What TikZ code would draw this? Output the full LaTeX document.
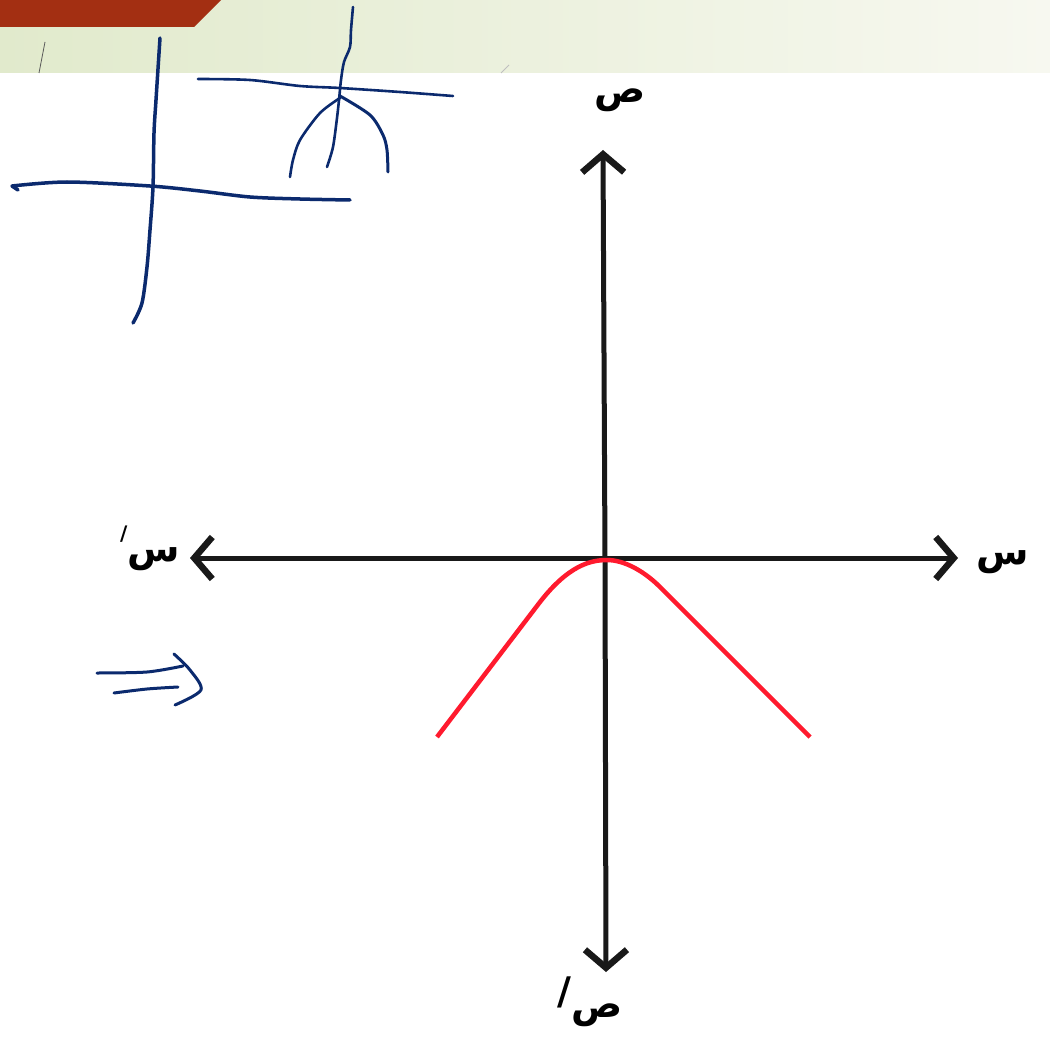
\documentclass[tikz,border=0pt]{standalone}
\usepackage{fontspec}
\newfontfamily\arabicfont[Script=Arabic]{DejaVu Sans}
\TeXXeTstate=1
\usetikzlibrary{arrows.meta}
\definecolor{pen}{HTML}{0B2A6E}
\definecolor{hdrL}{HTML}{E1EACC}
\definecolor{hdrR}{HTML}{F7F8F0}
\definecolor{brick}{HTML}{A32F12}
\definecolor{curve}{HTML}{FF1A2E}
\tikzset{
  ink/.style={draw=pen,line width=3.5pt,line cap=round,line join=round},
  thinink/.style={draw=pen,line width=2.6pt,line cap=round,line join=round},
  axis/.style={draw=black!90,line width=5pt,-{Straight Barb[length=18pt,width=42pt,line width=6.5pt]}},
  lbl/.style={font=\arabicfont\bfseries\fontsize{38}{40}\selectfont,inner sep=0pt}
}
\begin{document}
\begin{tikzpicture}[x=1pt,y=-1pt]
\useasboundingbox (0,0) rectangle (1050,1038);
\fill[white] (0,0) rectangle (1050,1038);
% header
\shade[left color=hdrL,right color=hdrR] (0,0) rectangle (1050,73);
\fill[brick] (0,0) -- (221,0) -- (194,27) -- (0,27) -- cycle;
\draw[gray!70!black,line width=0.8pt] (45,42) -- (39,73);
\draw[gray!50,line width=0.8pt] (509,65) -- (501,73);
% axes
\coordinate (O) at (605,558);
\coordinate (xr) at (958,558);
\coordinate (xl) at (190,558);
\coordinate (yt) at (603,150);
\coordinate (yb) at (606,972);
\draw[axis] (O) -- (xr);
\draw[axis] (O) -- (xl);
\draw[axis] (O) -- (yt);
\draw[axis] (O) -- (yb);
% labels
\node[lbl] (ly) at (620,100) {\beginR ص\endR};
\node[lbl] (lx) at (1003,562) {\beginR س\endR};
\node[lbl] (lxp) at (150,548) {\raisebox{1.0ex}{\fontsize{20}{20}\selectfont/}\beginR س\endR};
\node[lbl] (lyp) at (590,1002) {\raisebox{0.6ex}{/}\beginR ص\endR};
% red curve
\draw[curve,line width=4.5pt,line join=round,line cap=butt]
  (437,737) -- (540,602) .. controls (568,566) and (590,560) .. (607,560)
  .. controls (625,560) and (645,572) .. (660,587) -- (810,737);
% pen strokes
\draw[ink] plot[smooth,tension=0.5] coordinates {(160,38) (156,100) (154,133) (153,187) (150,230) (147,267) (142,303) (133,323)};
\draw[ink] (18,190) -- (12,186) plot[smooth,tension=0.5] coordinates {(12,186) (67,182) (150,186) (200,191) (250,197) (300,199) (350,200)};
\draw[thinink] plot[smooth,tension=0.5] coordinates {(198,79) (250,80) (300,86) (340,88) (400,92) (453,96)};
\draw[thinink] plot[smooth,tension=0.5] coordinates {(353,7) (351,30) (350,47) (344,62) (341,80) (339,100) (337,118) (333,147) (327,167)};
\draw[thinink] plot[smooth,tension=0.5] coordinates {(290,177) (293,160) (300,140) (320,113) (340,98)};
\draw[ink,line width=3pt] plot[smooth,tension=0.5] coordinates {(340,96) (370,115) (383,135) (387,150) (388,172)};
% double arrow
\draw[ink,line width=3pt] plot[smooth,tension=0.5] coordinates {(97,673) (147,672) (183,666)};
\draw[ink,line width=3pt] plot[smooth,tension=0.5] coordinates {(114,693) (147,689) (178,687)};
\draw[ink,line width=3pt] plot[smooth,tension=0.5] coordinates {(174,654) (190,670) (201,690) (175,705)};
\end{tikzpicture}
\end{document}
